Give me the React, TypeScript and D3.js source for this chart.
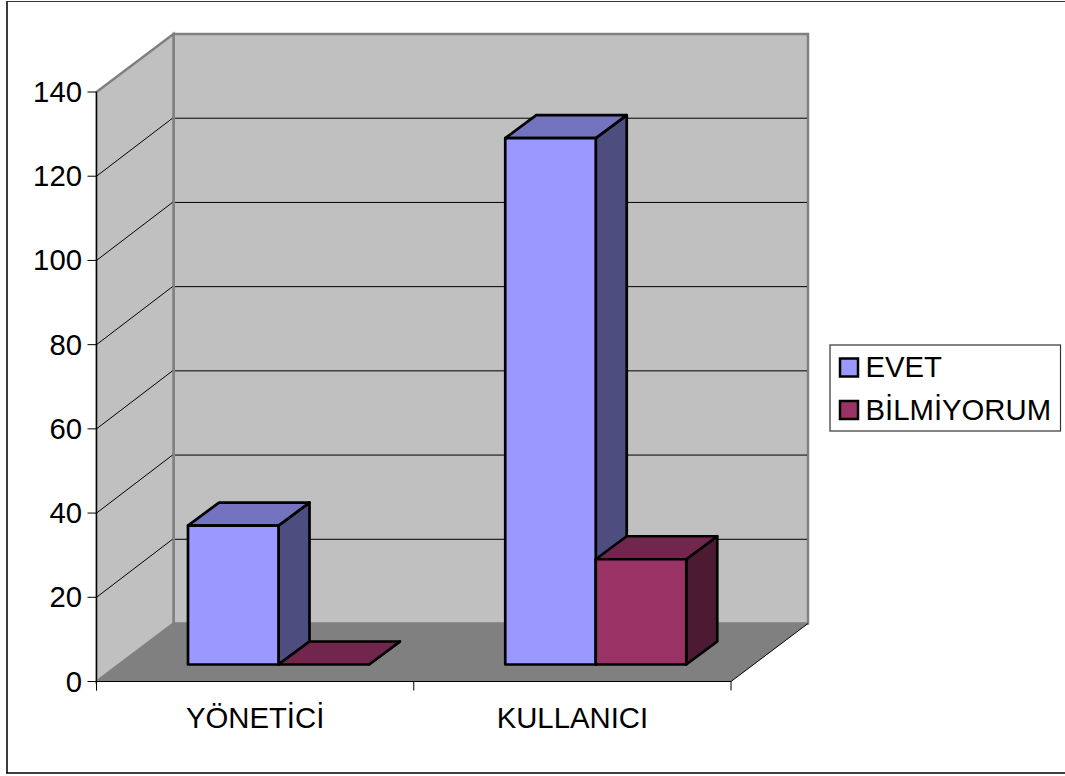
import React from "react";
import * as d3 from "d3";

const categories = ["YÖNETİCİ", "KULLANICI"];
const seriesNames = ["EVET", "BİLMİYORUM"];
const evetValues = [33, 125];
const bilmiyorumValues = [0, 25];
const yTicks = [0, 20, 40, 60, 80, 100, 120, 140];

const seriesValues = [evetValues, bilmiyorumValues];
const seriesFill = [
  { front: "#9999ff", top: "#7373bf", side: "#4d4d80" },
  { front: "#993366", top: "#73264d", side: "#4d1a33" },
];

const FONT = "'Liberation Sans', Arial, sans-serif";
const LABEL_SIZE = 29.3;

// Plot geometry: front-left origin of the box and the depth vector
const x0 = 96.5;
const x1 = 731;
const yBottom = 681.5;
const yTop = 92;
const depthX = 77;
const depthY = -58;
const barDepthX = 31;
const barDepthY = -23;
const barInsetY = -17;

const y = d3.scaleLinear().domain([0, 140]).range([yBottom, yTop]);
const xBand = d3.scaleBand<string>().domain(categories).range([x0, x1]);
const barWidth = 90.5;
const barGroupOffset = 91.5;

const poly = (pts: [number, number][]) => d3.line()(pts) + "Z";

export default function App() {
  const bars = categories.flatMap((cat, ci) =>
    seriesNames.map((_, si) => {
      const value = seriesValues[si][ci];
      const left = (xBand(cat) as number) + barGroupOffset + si * barWidth;
      const right = left + barWidth;
      const base = y(0) + barInsetY;
      const top = base - (y(0) - y(value));
      return { key: `${ci}-${si}`, left, right, base, top, value, colors: seriesFill[si] };
    })
  );

  return (
    <svg
      width={1065}
      height={776}
      style={{ position: "absolute", left: 0, top: 0, background: "#fff", fontFamily: FONT }}
    >
      {/* Outer frame; its right edge falls past the drawing area */}
      <line x1={7} x2={7} y1={1} y2={773} stroke="#3c3c3c" strokeWidth={2} />
      <line x1={6} x2={1065} y1={1.5} y2={1.5} stroke="#333" strokeWidth={1.2} />
      <line x1={6} x2={1065} y1={773} y2={773} stroke="#000" strokeWidth={1.6} />

      {/* Back wall, side wall and floor */}
      <path
        d={poly([[x0 + depthX, yTop + depthY], [x1 + depthX, yTop + depthY], [x1 + depthX, yBottom + depthY], [x0 + depthX, yBottom + depthY]])}
        fill="#c0c0c0"
        stroke="#808080"
        strokeWidth={2.5}
      />
      <path
        d={poly([[x0, yTop], [x0 + depthX, yTop + depthY], [x0 + depthX, yBottom + depthY], [x0, yBottom]])}
        fill="#c0c0c0"
        stroke="#808080"
        strokeWidth={2.5}
      />
      <path
        d={poly([[x0, yBottom], [x1, yBottom], [x1 + depthX, yBottom + depthY], [x0 + depthX, yBottom + depthY]])}
        fill="#808080"
      />

      {/* Grid lines run along the side wall and across the back wall */}
      {yTicks.slice(1, -1).map((t) => (
        <path
          key={t}
          d={d3.line()([[x0, y(t)], [x0 + depthX - 1, y(t) + depthY]]) as string}
          stroke="#000"
          strokeWidth={1}
          fill="none"
        />
      ))}
      {yTicks.slice(1, -1).map((t) => (
        <line key={t} x1={x0 + depthX + 1.5} x2={x1 + depthX - 1} y1={y(t) + depthY} y2={y(t) + depthY} stroke="#000" strokeWidth={1} />
      ))}

      {/* Front edge of the floor */}
      <line x1={x1} y1={yBottom} x2={x1 + depthX} y2={yBottom + depthY} stroke="#000" strokeWidth={1} />

      {/* Axes */}
      <line x1={x0} x2={x0} y1={yTop} y2={yBottom + 9} stroke="#000" strokeWidth={1} />
      <line x1={x0} x2={x1} y1={yBottom} y2={yBottom} stroke="#000" strokeWidth={1} />
      {yTicks.map((t) => (
        <g key={t}>
          <line x1={x0 - 9} x2={x0} y1={y(t)} y2={y(t)} stroke="#000" strokeWidth={1} />
          <text x={82} y={y(t) + 10} textAnchor="end" fontSize={LABEL_SIZE} fill="#000">{t}</text>
        </g>
      ))}
      {[x0, ...categories.map((c) => (xBand(c) as number) + xBand.step())].map((tx) => (
        <line key={tx} x1={tx} x2={tx} y1={yBottom} y2={yBottom + 9} stroke="#000" strokeWidth={1} />
      ))}
      {categories.map((c) => (
        <text key={c} x={(xBand(c) as number) + xBand.step() / 2} y={727.5} textAnchor="middle" fontSize={LABEL_SIZE} fill="#000">{c}</text>
      ))}

      {/* Bars: side and top faces first, then the front */}
      {bars.map((b) => (
        <g key={b.key} stroke="#000" strokeWidth={2.7} strokeLinejoin="round">
          <path
            d={poly([[b.right, b.top], [b.right + barDepthX, b.top + barDepthY], [b.right + barDepthX, b.base + barDepthY], [b.right, b.base]])}
            fill={b.colors.side}
          />
          <path
            d={poly([[b.left, b.top], [b.left + barDepthX, b.top + barDepthY], [b.right + barDepthX, b.top + barDepthY], [b.right, b.top]])}
            fill={b.colors.top}
          />
          <rect x={b.left} y={b.top} width={barWidth} height={b.base - b.top} fill={b.colors.front} />
        </g>
      ))}

      {/* Legend */}
      <rect x={830} y={345} width={230.5} height={86} fill="#fff" stroke="#333" strokeWidth={1.2} />
      {seriesNames.map((name, i) => (
        <g key={name}>
          <rect x={840} y={358.5 + i * 42.5} width={18} height={18} fill={seriesFill[i].front} stroke="#000" strokeWidth={2.5} />
          <text x={865.5} y={377 + i * 42.5} fontSize={LABEL_SIZE} fill="#000">{name}</text>
        </g>
      ))}
    </svg>
  );
}
